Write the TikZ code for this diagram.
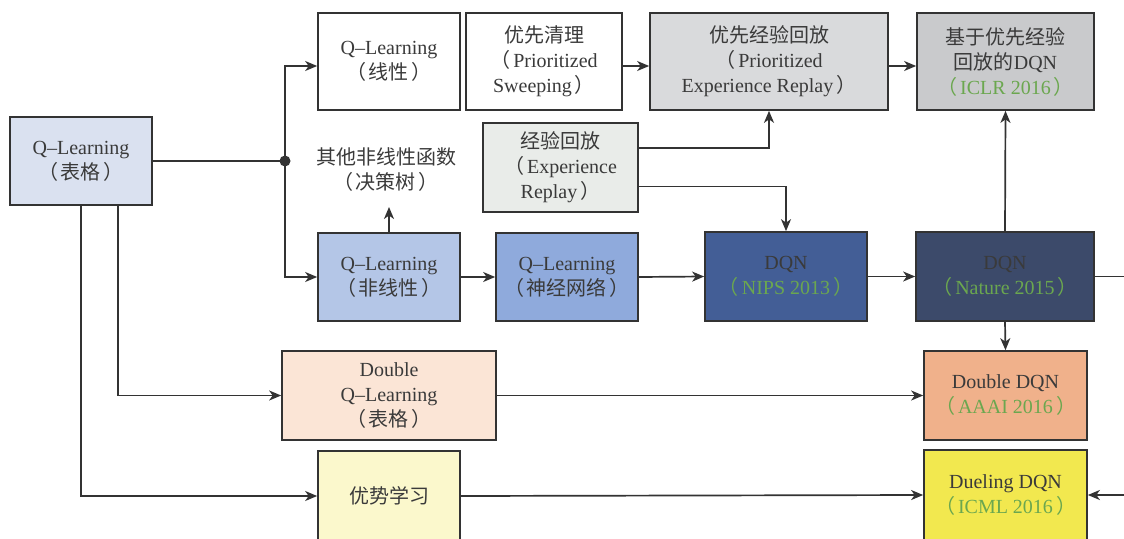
\documentclass[tikz,border=0pt]{standalone}
\usepackage{fontspec}
\setmainfont{Liberation Serif}
\newfontfamily\cjk{Noto Sans CJK SC}
\usetikzlibrary{arrows.meta}
\newcommand\zh[1]{{\cjk #1}}
\newcommand\lpar{{\cjk （}\hspace{0.15em}}
\newcommand\rpar{\hspace{0.15em}{\cjk ）}}
\definecolor{linec}{HTML}{333333}
\definecolor{textc}{HTML}{3A3A3A}
\definecolor{venue}{HTML}{6BA74F}
\definecolor{cA}{HTML}{DAE1F0}
\definecolor{cD}{HTML}{D9DADC}
\definecolor{cE}{HTML}{C9CACC}
\definecolor{cF}{HTML}{E9ECE9}
\definecolor{cG}{HTML}{B4C6E7}
\definecolor{cH}{HTML}{8FAADC}
\definecolor{cI}{HTML}{435E96}
\definecolor{cJ}{HTML}{3C4A6A}
\definecolor{cK}{HTML}{FBE5D6}
\definecolor{cL}{HTML}{F0B18B}
\definecolor{cM}{HTML}{FBF8CC}
\definecolor{cN}{HTML}{F2E84F}
\begin{document}
\begin{tikzpicture}[x=1pt,y=-1pt,
  box/.style={draw=linec, line width=1.7pt, inner sep=0pt, align=center,
    text=textc, font=\fontsize{20}{25}\selectfont},
  lbl/.style={inner sep=0pt, align=center, text=textc, font=\fontsize{20}{25}\selectfont},
  link/.style={draw=linec, line width=1.7pt},
  conn/.style={link, -{Stealth[length=12pt,width=10pt,inset=3.5pt]}},
  ven/.style={text=venue}]
\useasboundingbox (0,0) rectangle (1124,538);
\clip (0,0) rectangle (1124,538);
\fill[white] (0,0) rectangle (1124,538);

% nodes
\node[box, fill=cA, minimum width=142pt, minimum height=88pt] (A) at (81,161)
  {Q–Learning\\\lpar\zh{表格}\rpar};
\node[box, fill=white, minimum width=142pt, minimum height=97pt] (B) at (389,61.5)
  {Q–Learning\\\lpar\zh{线性}\rpar};
\node[box, fill=white, minimum width=156pt, minimum height=97pt] (C) at (544,61.5)
  {\zh{优先清理}\\\lpar Prioritized\\Sweeping\rpar};
\node[box, fill=cD, minimum width=238pt, minimum height=97pt] (D) at (769,61.5)
  {\zh{优先经验回放}\\\lpar Prioritized\\Experience Replay\rpar};
\node[box, fill=cE, minimum width=177pt, minimum height=97pt] (E) at (1005.5,61.5)
  {\zh{基于优先经验}\\\zh{回放的}DQN\\{\color{venue}\lpar ICLR 2016\rpar}};
\node[box, fill=cF, minimum width=155pt, minimum height=89pt] (F) at (560.5,167.5)
  {\zh{经验回放}\\\lpar Experience\\Replay\rpar};
\node[lbl] (T) at (386,170) {\zh{其他非线性函数}\\\lpar\zh{决策树}\rpar};
\node[box, fill=cG, minimum width=142pt, minimum height=88pt] (G) at (389,277)
  {Q–Learning\\\lpar\zh{非线性}\rpar};
\node[box, fill=cH, minimum width=142pt, minimum height=88pt] (H) at (567,277)
  {Q–Learning\\\lpar\zh{神经网络}\rpar};
\node[box, fill=cI, minimum width=162pt, minimum height=89pt] (I) at (786,276.5)
  {DQN\\{\color{venue}\lpar NIPS 2013\rpar}};
\node[box, fill=cJ, minimum width=178pt, minimum height=89pt] (J) at (1005,276.5)
  {DQN\\{\color{venue}\lpar Nature 2015\rpar}};
\node[box, fill=cK, minimum width=214pt, minimum height=89pt] (K) at (389,395.5)
  {Double\\Q–Learning\\\lpar\zh{表格}\rpar};
\node[box, fill=cL, minimum width=163pt, minimum height=89pt] (L) at (1005.5,395.5)
  {Double DQN\\{\color{venue}\lpar AAAI 2016\rpar}};
\node[box, fill=cM, minimum width=142pt, minimum height=90pt] (M) at (389,496)
  {\zh{优势学习}};
\node[box, fill=cN, minimum width=163pt, minimum height=90pt] (N) at (1005.5,495)
  {Dueling DQN\\{\color{venue}\lpar ICML 2016\rpar}};

% helper coordinates
\coordinate (jn) at (285,161);
\coordinate (Tb) at (389,207);
\coordinate (Jout) at (1124,276.5);
\coordinate (Nin) at (1124,495);

% connectors
\draw[link] (A.east) -- (jn);
\fill[linec] (jn) circle (5.5pt);
\draw[conn] (jn) |- ([yshift=-4.5pt]B.west);
\draw[conn] (jn) |- (G.west);
\draw[conn] (G.north) -- (Tb);
\draw[conn] ([yshift=-4.5pt]C.east) -- ([yshift=-4.5pt]D.west);
\draw[conn] ([yshift=-4.5pt]D.east) -- ([yshift=-4.5pt]E.west);
\draw[conn] ([yshift=19.5pt]F.east) -| (D.south);
\draw[conn] ([yshift=-19pt]F.east) -| (I.north);
\draw[conn] (G.east) -- (H.west);
\draw[conn] (H.east) -- (I.west);
\draw[conn] (I.east) -- (J.west);
\draw[link] (J.east) -- (Jout);
\draw[conn] (J.north) -- (E.south);
\draw[conn] (J.south) -- (L.north);
\draw[conn] ([xshift=37pt]A.south) |- (K.west);
\draw[conn] (A.south) |- (M.west);
\draw[conn] (K.east) -- (L.west);
\draw[conn] (M.east) -- (N.west);
\draw[conn] (Nin) -- (N.east);
\end{tikzpicture}
\end{document}
